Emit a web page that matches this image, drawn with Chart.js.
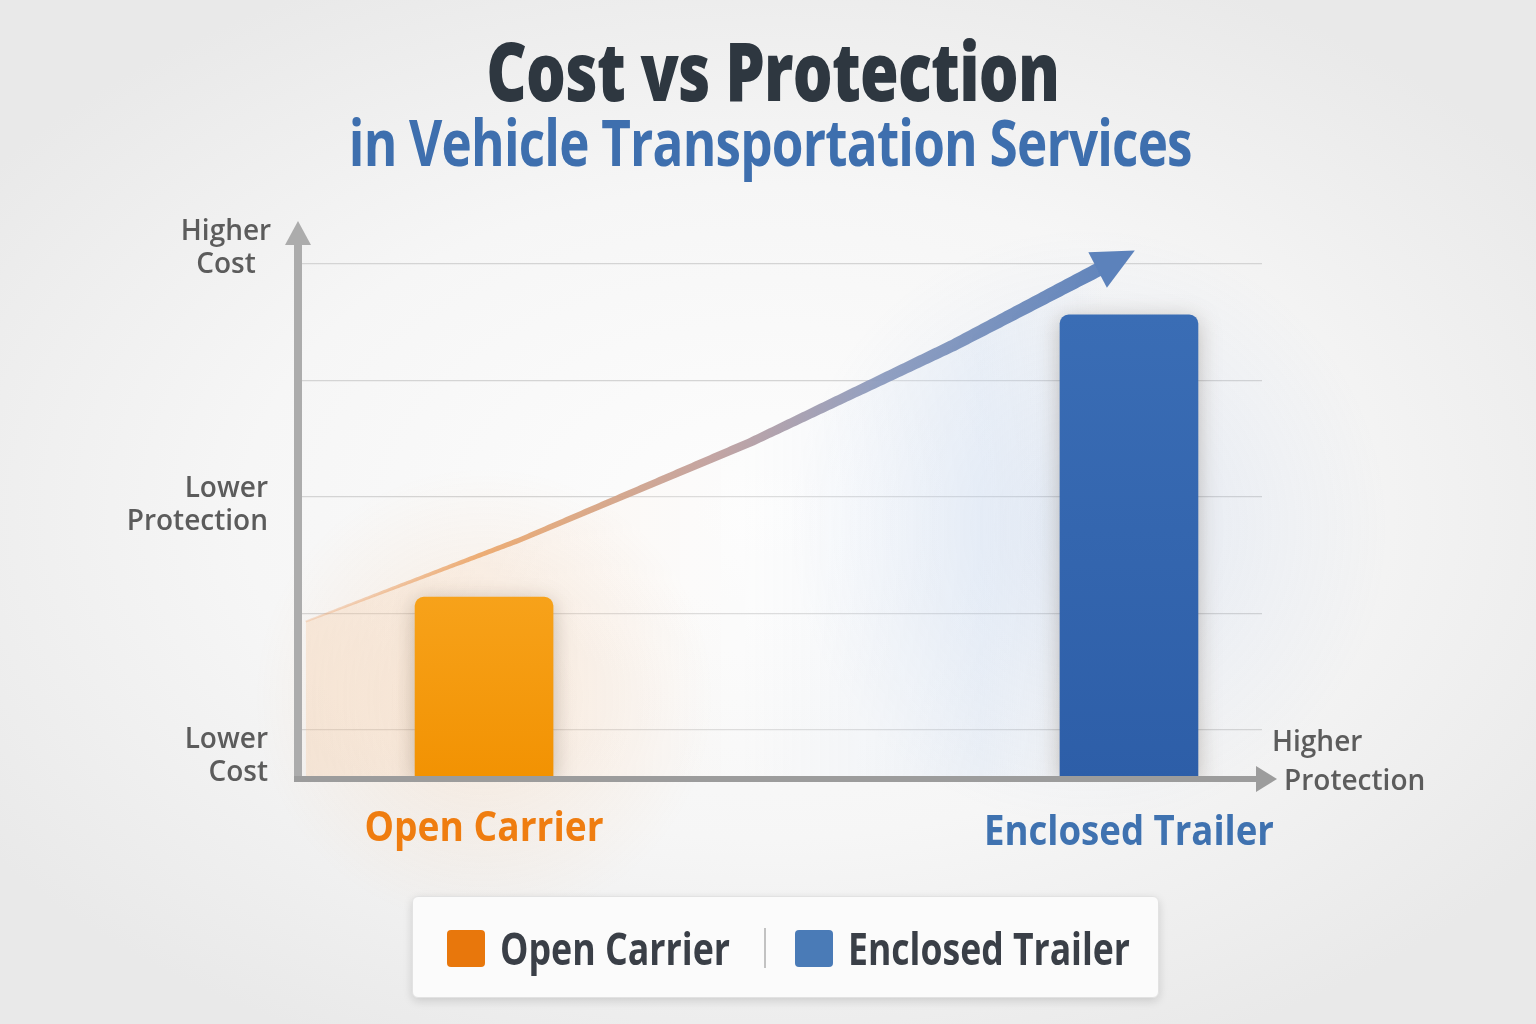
<!DOCTYPE html>
<html>
<head>
<meta charset="utf-8">
<script src="https://cdn.jsdelivr.net/npm/chart.js@4.4.1/dist/chart.umd.min.js"></script>
<style>
  html, body { margin: 0; padding: 0; }
  body {
    width: 1536px; height: 1024px; overflow: hidden; position: relative;
    background: radial-gradient(ellipse 62% 58% at 50% 50%, #fdfdfd 0%, #f6f6f6 55%, #e9e9e9 100%);
    font-family: "Open Sans", "DejaVu Sans", sans-serif;
  }
  #chart { position: absolute; left: 0; top: 0; }
  .row { position: absolute; left: 0; text-align: center; line-height: 1; white-space: nowrap; }
  .row span { display: inline-block; transform-origin: center; }
  #title { top: 28px; width: 1546px; font-size: 82px; font-weight: 800; color: #2e3740; letter-spacing: -1px; }
  #subtitle { top: 110px; width: 1540px; font-size: 64px; font-weight: 700; color: #3e6fae; letter-spacing: -1px; }
  .axis-label { position: absolute; font-size: 28px; font-weight: 600; color: #5c5c5c; line-height: 33px; white-space: nowrap; }
  #legend {
    position: absolute; left: 412px; top: 896px; width: 747px; height: 102px;
    background: #fbfbfb; border: 1px solid #e2e2e2; border-radius: 6px;
    box-shadow: 0 3px 10px rgba(0,0,0,0.14); box-sizing: border-box;
  }
  .swatch { position: absolute; top: 33px; width: 38px; height: 37px; border-radius: 4px; }
  .legend-text { position: absolute; top: 29px; font-size: 44px; font-weight: 700; color: #3a3f47; line-height: 1; white-space: nowrap; transform-origin: left; }
  .sep { position: absolute; left: 351px; top: 31px; width: 2px; height: 40px; background: #c2c2c2; }
</style>
</head>
<body>
<canvas id="chart" width="1536" height="1024"></canvas>

<div id="title" class="row"><span data-fit="573">Cost vs Protection</span></div>
<div id="subtitle" class="row"><span data-fit="843">in Vehicle Transportation Services</span></div>

<div class="axis-label" style="left:170px; top:213px; width:112px; text-align:center;">Higher<br>Cost</div>
<div class="axis-label" style="left:100px; top:470px; width:168px; text-align:right;">Lower<br>Protection</div>
<div class="axis-label" style="left:100px; top:721px; width:168px; text-align:right;">Lower<br>Cost</div>
<div class="axis-label" style="left:1272px; top:724px;">Higher</div>
<div class="axis-label" style="left:1284px; top:763px;">Protection</div>

<div id="legend">
  <div class="swatch" style="left:34px; background:#e8770c;"></div>
  <div class="legend-text" style="left:87px;" data-fit="230">Open Carrier</div>
  <div class="sep"></div>
  <div class="swatch" style="left:382px; background:#4a7bb7;"></div>
  <div class="legend-text" style="left:435px;" data-fit="282">Enclosed Trailer</div>
</div>

<script>
// two services, placed by protection (x) and cost (y)
const categories = ['Open Carrier', 'Enclosed Trailer'];
const protectionLevel = [1.93, 8.62];
const costLevel = [2.14, 4.56];

// rising trend arrow (protection, cost)
const trendProtection = [0.08, 2.3, 4.7, 6.8, 8.35];
const trendCost = [1.93, 2.63, 3.47, 4.30, 4.97];

const costTicks = [1, 2, 3, 4, 5];
const costMin = 0.58;
const costMax = 5.4;

const barColors = [['#f7a21a', '#f29202'], ['#3a6db5', '#2d5ea8']];
const labelColors = ['#ef7d10', '#3f72b0'];
const labelWidths = [239, 290];

// squeeze the condensed looking texts to their widths
document.querySelectorAll('[data-fit]').forEach(function (el) {
    const w = el.getBoundingClientRect().width;
    el.style.transform = 'scaleX(' + (el.dataset.fit / w) + ')';
});

function barGradient(ctx, i) {
    const chart = ctx.chart;
    if (!chart.chartArea) return barColors[i][0];
    const y = chart.scales.y;
    const g = chart.ctx.createLinearGradient(0, y.getPixelForValue(costLevel[i]), 0, chart.chartArea.bottom);
    g.addColorStop(0, barColors[i][0]);
    g.addColorStop(1, barColors[i][1]);
    return g;
}

function strokeGradient(chart) {
    const area = chart.chartArea;
    const g = chart.ctx.createLinearGradient(area.left, 0, area.left + 830, 0);
    g.addColorStop(0, 'rgba(232,160,110,0.25)');
    g.addColorStop(0.22, 'rgba(234,160,95,0.85)');
    g.addColorStop(0.5, 'rgba(192,160,158,0.95)');
    g.addColorStop(0.7, 'rgba(140,155,190,0.95)');
    g.addColorStop(1, 'rgba(92,130,187,1)');
    return g;
}

function trendFill(ctx) {
    const chart = ctx.chart;
    const area = chart.chartArea;
    if (!area) return 'rgba(0,0,0,0)';
    const x = chart.scales.x;
    const end = x.getPixelForValue(trendProtection[trendProtection.length - 1]);
    const g = chart.ctx.createLinearGradient(area.left, 0, end, 0);
    g.addColorStop(0, 'rgba(246,196,150,0.30)');
    g.addColorStop(0.3, 'rgba(250,228,210,0.22)');
    g.addColorStop(0.55, 'rgba(255,255,255,0.2)');
    g.addColorStop(0.85, 'rgba(210,225,245,0.3)');
    g.addColorStop(1, 'rgba(210,225,245,0)');
    return g;
}

const glowPlugin = {
    id: 'glow',
    beforeDatasetsDraw(chart) {
        const { ctx, scales: { x, y } } = chart;
        const glows = [[245, 150, 60, 0.14, 230], [110, 150, 215, 0.14, 300]];
        categories.forEach(function (name, i) {
            const cx = x.getPixelForValue(protectionLevel[i]) - i * 40;
            const cy = y.getPixelForValue(costLevel[i] * 0.6);
            const c = glows[i];
            const g = ctx.createRadialGradient(cx, cy, 10, cx, cy, c[4]);
            g.addColorStop(0, 'rgba(' + c[0] + ',' + c[1] + ',' + c[2] + ',' + c[3] + ')');
            g.addColorStop(1, 'rgba(' + c[0] + ',' + c[1] + ',' + c[2] + ',0)');
            ctx.save();
            ctx.fillStyle = g;
            ctx.fillRect(cx - c[4], cy - c[4], c[4] * 2, c[4] * 2);
            ctx.restore();
        });
    },
    beforeDatasetDraw(chart, args) {
        if (args.index !== 0) return;
        chart.ctx.save();
        chart.ctx.shadowColor = 'rgba(60,40,20,0.28)';
        chart.ctx.shadowBlur = 22;
        chart.ctx.shadowOffsetY = 4;
    },
    afterDatasetDraw(chart, args) {
        if (args.index !== 0) return;
        chart.ctx.restore();
    }
};

const axesPlugin = {
    id: 'axesArrows',
    afterDatasetsDraw(chart) {
        const { ctx, chartArea: a, scales: { x, y } } = chart;
        ctx.save();

        // tapered shaft that follows the trend line element
        const line = chart.getDatasetMeta(1).dataset;
        const n = trendProtection.length;
        const x0 = x.getPixelForValue(trendProtection[0]);
        const x1 = x.getPixelForValue(trendProtection[n - 1]);
        const pts = [];
        for (let px = x0; px <= x1; px += 3) {
            let p = line.interpolate({ x: px }, 'x');
            if (Array.isArray(p)) p = p[0];
            if (p) pts.push({ x: p.x, y: p.y });
        }
        pts.push({ x: x1, y: y.getPixelForValue(trendCost[n - 1]) });
        const upper = [], lower = [];
        pts.forEach(function (p, i) {
            const q = pts[Math.min(i + 1, pts.length - 1)];
            const r = pts[Math.max(i - 1, 0)];
            const dx = q.x - r.x, dy = q.y - r.y;
            const d = Math.hypot(dx, dy) || 1;
            const w = (2 + 12 * (i / (pts.length - 1))) / 2;
            upper.push([p.x + dy / d * w, p.y - dx / d * w]);
            lower.push([p.x - dy / d * w, p.y + dx / d * w]);
        });
        ctx.fillStyle = strokeGradient(chart);
        ctx.beginPath();
        upper.forEach(function (p, i) { i ? ctx.lineTo(p[0], p[1]) : ctx.moveTo(p[0], p[1]); });
        lower.reverse().forEach(function (p) { ctx.lineTo(p[0], p[1]); });
        ctx.closePath();
        ctx.fill();

        // arrowhead
        const ex = x1, ey = y.getPixelForValue(trendCost[n - 1]);
        const pp = pts[Math.max(pts.length - 6, 0)];
        const ang = Math.atan2(ey - pp.y, ex - pp.x);
        const len = 42, half = 20;
        const tx = ex + Math.cos(ang) * (len - 6), ty = ey + Math.sin(ang) * (len - 6);
        const bx = ex - Math.cos(ang) * 6, by = ey - Math.sin(ang) * 6;
        ctx.fillStyle = '#5c82bb';
        ctx.beginPath();
        ctx.moveTo(tx, ty);
        ctx.lineTo(bx - Math.sin(ang) * half, by + Math.cos(ang) * half);
        ctx.lineTo(bx + Math.sin(ang) * half, by - Math.cos(ang) * half);
        ctx.closePath();
        ctx.fill();

        // y axis
        ctx.strokeStyle = '#acacac';
        ctx.fillStyle = '#acacac';
        ctx.lineWidth = 8;
        ctx.beginPath();
        ctx.moveTo(a.left, a.bottom + 3);
        ctx.lineTo(a.left, a.top + 26);
        ctx.stroke();
        ctx.beginPath();
        ctx.moveTo(a.left, a.top + 4);
        ctx.lineTo(a.left + 13, a.top + 28);
        ctx.lineTo(a.left - 13, a.top + 28);
        ctx.closePath();
        ctx.fill();
        // x axis
        ctx.strokeStyle = '#9c9c9c';
        ctx.fillStyle = '#9c9c9c';
        ctx.lineWidth = 6;
        ctx.beginPath();
        ctx.moveTo(a.left - 4, a.bottom);
        ctx.lineTo(a.right - 2, a.bottom);
        ctx.stroke();
        ctx.beginPath();
        ctx.moveTo(a.right + 15, a.bottom);
        ctx.lineTo(a.right - 6, a.bottom - 13);
        ctx.lineTo(a.right - 6, a.bottom + 13);
        ctx.closePath();
        ctx.fill();

        // category names under the bars
        ctx.textAlign = 'center';
        ctx.textBaseline = 'alphabetic';
        ctx.font = '700 42px "Open Sans", "DejaVu Sans", sans-serif';
        categories.forEach(function (name, i) {
            ctx.fillStyle = labelColors[i];
            ctx.fillText(name, x.getPixelForValue(protectionLevel[i]), a.bottom + 62 + i * 4, labelWidths[i]);
        });
        ctx.restore();
    }
};

new Chart(document.getElementById('chart'), {
    type: 'bar',
    data: {
        datasets: [{
            label: 'Services',
            data: protectionLevel.map(function (p, i) { return { x: p, y: costLevel[i] }; }),
            backgroundColor: function (ctx) { return barGradient(ctx, ctx.dataIndex); },
            base: costMin,
            barThickness: 138,
            borderRadius: { topLeft: 9, topRight: 9, bottomLeft: 0, bottomRight: 0 },
            borderSkipped: false,
            order: 1
        }, {
            type: 'line',
            label: 'Trend',
            data: trendProtection.map(function (p, i) { return { x: p, y: trendCost[i] }; }),
            borderColor: 'rgba(0,0,0,0)',
            borderWidth: 0,
            backgroundColor: trendFill,
            fill: 'origin',
            tension: 0,
            pointRadius: 0,
            order: 2
        }]
    },
    options: {
        responsive: false,
        animation: false,
        layout: { padding: { left: 298, right: 274, top: 217, bottom: 245 } },
        plugins: { legend: { display: false }, tooltip: { enabled: false } },
        scales: {
            x: {
                type: 'linear',
                min: 0,
                max: 10,
                offset: false,
                ticks: { display: false },
                grid: { display: false },
                border: { display: false },
                afterFit: function (s) { s.height = 0; }
            },
            y: {
                min: costMin,
                max: costMax,
                afterBuildTicks: function (s) { s.ticks = costTicks.map(function (v) { return { value: v }; }); },
                ticks: { display: false },
                grid: { color: '#d4d4d4', lineWidth: 1.2, drawTicks: false },
                border: { display: false },
                afterFit: function (s) { s.width = 0; }
            }
        }
    },
    plugins: [glowPlugin, axesPlugin]
});
</script>
</body>
</html>
